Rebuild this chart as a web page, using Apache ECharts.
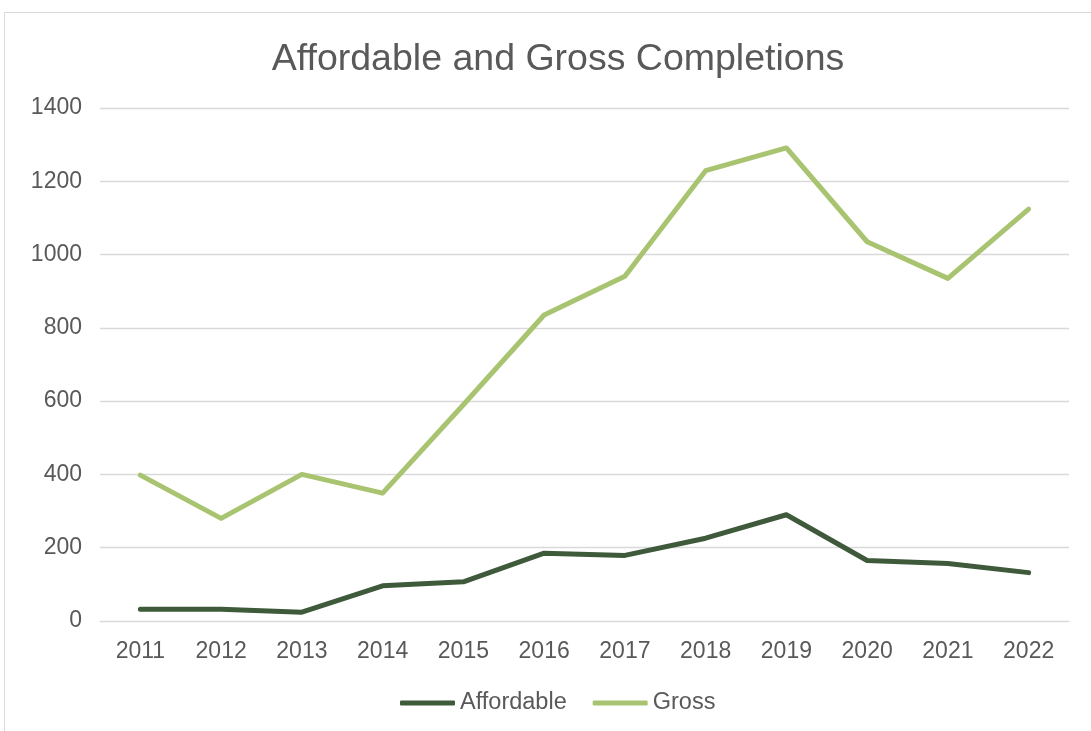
<!DOCTYPE html>
<html>
<head>
<meta charset="utf-8">
<script src="https://cdn.jsdelivr.net/npm/echarts@6/dist/echarts.min.js"></script>
<style>
html,body{margin:0;padding:0;background:#fff;}
#chart{width:1091px;height:731px;}
</style>
</head>
<body>
<div id="chart"></div>
<script>
const years = ['2011','2012','2013','2014','2015','2016','2017','2018','2019','2020','2021','2022'];
const affordable = [32, 32, 24, 96, 107, 185, 179, 226, 290, 165, 157, 132];
const gross = [398, 280, 400, 349, 590, 835, 941, 1229, 1291, 1035, 935, 1124];
const yTicks = {min: 0, max: 1400, interval: 200};
const titleText = 'Affordable and Gross Completions';
const seriesNames = ['Affordable', 'Gross'];

const FONT = '"Liberation Sans", Arial, sans-serif';
const TXT = '#595959';
const chart = echarts.init(document.getElementById('chart'), null, {renderer: 'canvas'});
chart.setOption({
  animation: false,
  backgroundColor: '#fff',
  graphic: [{
    type: 'rect', silent: true, z: -10,
    shape: {x: 4.5, y: 12.5, width: 1200, height: 900},
    style: {fill: '#fff', stroke: '#d9d9d9', lineWidth: 1}
  }],
  title: {
    text: titleText,
    left: 553, top: 36, textAlign: 'center',
    textStyle: {fontFamily: FONT, fontSize: 37.5, fontWeight: 'normal', color: TXT}
  },
  legend: {
    data: seriesNames,
    left: 395, top: 686,
    itemWidth: 55, itemHeight: 5, itemGap: 26,
    icon: 'roundRect',
    textStyle: {fontFamily: FONT, fontSize: 23.5, color: TXT}
  },
  grid: {left: 100, right: 22, top: 108, bottom: 110, containLabel: false},
  xAxis: {
    type: 'category', data: years, boundaryGap: true,
    axisLine: {show: true, lineStyle: {color: '#d9d9d9', width: 1}},
    axisTick: {show: false},
    axisLabel: {fontFamily: FONT, fontSize: 23, color: TXT, margin: 19}
  },
  yAxis: {
    type: 'value', min: yTicks.min, max: yTicks.max, interval: yTicks.interval,
    axisLine: {show: false}, axisTick: {show: false},
    splitLine: {lineStyle: {color: '#d9d9d9', width: 1.3}},
    axisLabel: {fontFamily: FONT, fontSize: 23, color: TXT, margin: 18,
      formatter: function (v) { return String(v); }}
  },
  series: [
    {name: seriesNames[0], type: 'line', data: affordable, showSymbol: false, symbol: 'none',
     lineStyle: {color: '#3e5a3b', width: 5, cap: 'round', join: 'round'},
     itemStyle: {color: '#3e5a3b'}},
    {name: seriesNames[1], type: 'line', data: gross, showSymbol: false, symbol: 'none',
     lineStyle: {color: '#a9c470', width: 5, cap: 'round', join: 'round'},
     itemStyle: {color: '#a9c470'}}
  ]
});
</script>
</body>
</html>
